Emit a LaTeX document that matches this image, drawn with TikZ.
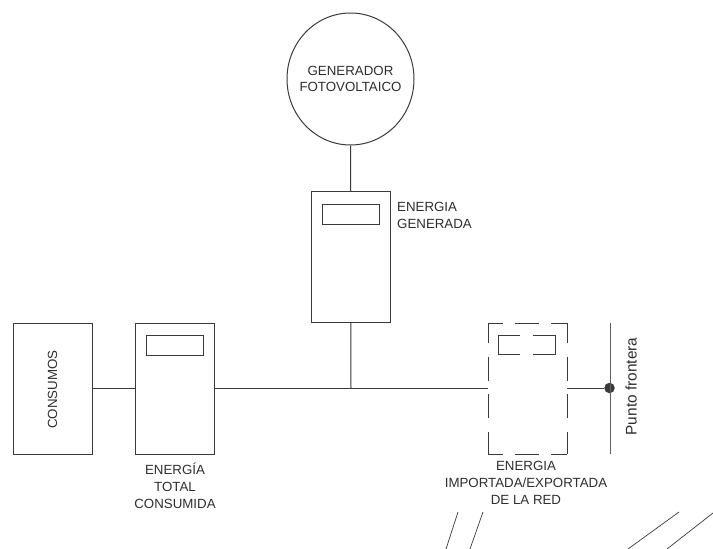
\documentclass[tikz,border=0pt]{standalone}
\usepackage{fontspec}
\setmainfont{Liberation Sans}
\usetikzlibrary{shapes.geometric}
\definecolor{ink}{HTML}{3A3A3A}
\definecolor{txt}{HTML}{2E2E2E}
\tikzset{
  x=1pt,y=-1pt,
  wire/.style={draw=ink,line width=1pt},
  box/.style={draw=ink,line width=1pt,rectangle,minimum width=78.5pt,minimum height=131pt,inner sep=0pt,anchor=north west},
  ghostbox/.style={rectangle,minimum width=79pt,minimum height=131pt,inner sep=0pt,anchor=north west},
  screen/.style={draw=ink,line width=1pt,rectangle,minimum width=56.5pt,minimum height=19.5pt,inner sep=0pt,anchor=north west},
  ghostscreen/.style={rectangle,minimum width=56.5pt,minimum height=19.5pt,inner sep=0pt,anchor=north west},
  lab/.style={font=\fontsize{13.3}{16.8}\selectfont,text=txt,align=center,inner sep=0pt},
  dashH/.style={draw=ink,line width=1pt,dash pattern=on 24pt off 12pt,dash phase=9pt},
  dashV/.style={draw=ink,line width=1pt,dash pattern=on 24pt off 13.5pt,dash phase=4pt},
  dashS/.style={draw=ink,line width=1pt,dash pattern=on 21.5pt off 13pt},
}
\begin{document}
\begin{tikzpicture}
\useasboundingbox (0,0) rectangle (713,549);
% generator
\node[draw=ink,line width=1pt,ellipse,minimum width=127pt,minimum height=132pt,inner sep=0pt] (gen) at (350.5,79) {};
\node[lab] (gentxt) at (350.5,79) {GENERADOR\\FOTOVOLTAICO};
% generation meter
\node[box] (mg) at (311,191) {};
\node[screen] (mgs) at (322,204) {};
\node[lab,align=left,anchor=north west] (mgt) at (397,202) {ENERGIA\\GENERADA};
% loads
\node[box] (cons) at (13,323) {};
\node[lab,rotate=90] (const) at (52.5,389.5) {CONSUMOS};
% consumption meter
\node[box] (mc) at (135,323) {};
\node[screen] (mcs) at (146,335) {};
\node[lab] (mct) at (175,486) {ENERGÍA\\TOTAL\\CONSUMIDA};
% grid meter (dashed)
\node[ghostbox] (mr) at (488,323) {};
\node[ghostscreen] (mrs) at (498.5,335) {};
\node[lab] (mrt) at (526,483) {ENERGIA\\IMPORTADA/EXPORTADA\\DE LA RED};
\draw[dashH] (mr.north west) -- (mr.north east);
\draw[dashH] (mr.south west) -- (mr.south east);
\draw[dashV] (mr.north west) -- (mr.south west);
\draw[dashV] (mr.north east) -- (mr.south east);
\draw[dashS] (mrs.north west) -- (mrs.north east);
\draw[dashS] (mrs.south west) -- (mrs.south east);
\draw[wire] (mrs.north west) -- (mrs.south west);
\draw[wire] (mrs.north east) -- (mrs.south east);
% boundary point
\coordinate (fa) at (610,323);
\coordinate (fb) at (610,454);
\node[circle,fill=ink,minimum size=10.5pt,inner sep=0pt] (dot) at (609.5,388) {};
\node[lab,rotate=90,font=\fontsize{15.4}{17}\selectfont] (pf) at (631,386.5) {Punto frontera};
\draw[wire,draw=ink!80] (fa) -- (fb);
% junction
\coordinate (jn) at (351,388);
% connectors
\draw[wire] (gen.south) -- (mg.north);
\draw[wire] (mg.south) -- (jn);
\draw[wire] (cons.east|-jn) -- (mc.west|-jn);
\draw[wire] (mc.east|-jn) -- (jn);
\draw[wire] (jn) -- (mr.west|-jn);
\draw[wire] (mr.east|-jn) -- (dot);
% stray lines at the bottom
\coordinate (s1a) at (458,512); \coordinate (s1b) at (446,549);
\coordinate (s2a) at (483,512); \coordinate (s2b) at (470,549);
\coordinate (s3a) at (679,512); \coordinate (s3b) at (628,549);
\coordinate (s4a) at (713,513); \coordinate (s4b) at (667,549);
\draw[wire,line width=.7pt] (s1a) -- (s1b);
\draw[wire,line width=.7pt] (s2a) -- (s2b);
\draw[wire,line width=.7pt] (s3a) -- (s3b);
\draw[wire,line width=.7pt] (s4a) -- (s4b);
\end{tikzpicture}
\end{document}
